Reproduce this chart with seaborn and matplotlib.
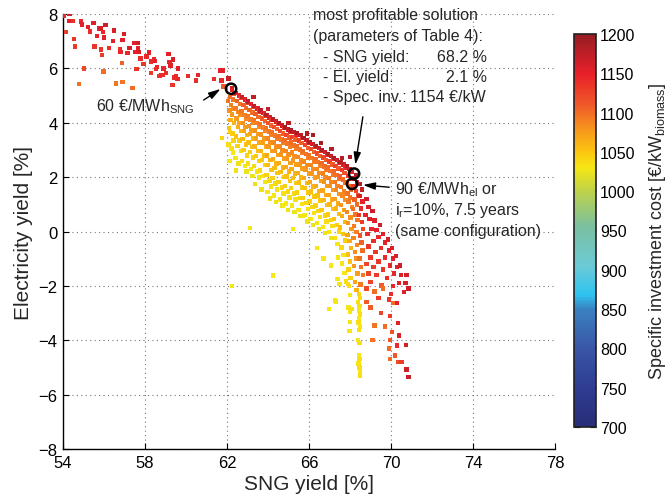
import numpy as np
import pandas as pd
import matplotlib
matplotlib.use("Agg")
import matplotlib.pyplot as plt
from matplotlib.colors import LinearSegmentedColormap, Normalize
from matplotlib.cm import ScalarMappable
import seaborn as sns

# ---------------- data (x = SNG yield %, y = electricity yield %, c = spec. inv. cost) ----------------
tail_x = [54.05,54.15,54.29,54.31,54.5,54.55,54.6,54.78,54.88,54.94,55.02,55.23,55.32,55.48,55.53,55.67,55.77,55.85,55.94,56.08,
          56.0,55.84,55.89,55.98,56.23,56.49,56.45,56.6,56.78,56.8,56.91,56.98,56.88,56.91,57.14,57.24,57.4,57.46,57.5,57.59,
          57.67,57.67,57.7,57.79,57.92,58.08,58.21,58.29,58.28,58.44,58.5,58.54,58.6,58.7,58.8,58.85,59.02,58.9,59.14,59.2,
          59.24,59.35,59.41,59.5,59.55,59.62,59.62,59.38,60.1,60.49,60.6,61.37,61.69,61.8,61.73,62.07,61.83]
tail_y = [7.94,7.33,7.75,8.0,7.75,7.08,6.81,5.43,7.72,7.62,6.0,7.53,7.35,7.67,6.8,7.2,7.47,7.47,7.33,7.6,
          7.14,6.69,6.49,5.88,6.75,7.39,7.0,5.45,6.69,6.6,7.04,7.26,6.2,5.49,6.57,6.74,5.27,6.93,6.6,5.98,
          6.93,6.75,6.6,6.37,6.16,6.44,6.59,5.82,6.25,6.32,6.27,5.98,6.05,5.73,5.75,5.76,5.82,6.0,6.53,6.24,
          6.1,5.39,5.67,5.7,5.6,6.0,5.62,6.32,5.73,5.55,5.75,5.61,5.92,5.92,5.55,5.63,5.34]
tail_c = [1140,1130,1150,1160,1140,1135,1130,1095,1145,1150,1120,1150,1140,1155,1135,1145,1150,1160,1145,1165,
          1150,1135,1130,1100,1140,1160,1150,1095,1140,1145,1150,1160,1105,1095,1145,1160,1100,1150,1150,1135,
          1165,1150,1160,1140,1135,1145,1150,1130,1140,1145,1150,1140,1145,1135,1140,1140,1140,1145,1150,1145,
          1150,1135,1140,1145,1140,1150,1145,1160,1140,1140,1145,1140,1150,1150,1145,1170,1110]

band_a_x = [62.25,62.23,62.33,62.15,62.29,62.06,62.2,62.31,62.12,62.25,62.18,62.34,62.1,62.27,62.16,62.32,62.07,62.22,62.3,62.13,61.75,62.45,
            62.43,62.58,62.68,62.5,62.64,62.41,62.55,62.66,62.47,62.6,62.53,62.69,62.45,62.62,62.51,62.67,62.42,62.57,
            62.73,62.88,62.98,62.8,62.94,62.71,62.85,62.96,62.77,62.9,62.83,62.99,62.75,62.92,62.81,62.97,62.72,62.87,62.95,
            63.03,63.18,63.28,63.1,63.24,63.01,63.15,63.26,63.07,63.2,63.13,63.29,63.05,63.22,63.11,63.27,63.02,63.17,63.25,
            63.33,63.48,63.58,63.4,63.54,63.31,63.45,63.56,63.37,63.5,63.43,63.59,63.35,63.52,63.41,63.57,63.32,63.47,63.55,63.38,
            63.63,63.78,63.88,63.7,63.84,63.61,63.75,63.86,63.67,63.8,63.73,63.89,63.65,63.82,63.71,63.87,63.62,63.77,63.85,63.68]
band_a_y = [5.28,5.2,5.05,4.95,4.85,4.8,4.65,4.5,4.45,4.3,4.1,4.0,3.8,3.6,3.65,3.35,3.2,3.05,2.9,2.6,3.45,2.25,
            5.1,5.0,4.9,4.8,4.7,4.55,4.4,4.3,4.15,4.0,3.85,3.7,3.5,3.35,3.15,2.95,2.7,2.5,
            4.95,4.85,4.75,4.65,4.55,4.42,4.28,4.15,4.0,3.85,3.7,3.55,3.4,3.2,3.0,2.8,2.6,2.4,2.2,
            4.78,4.68,4.58,4.48,4.38,4.25,4.12,4.0,3.88,3.72,3.58,3.42,3.28,3.1,2.92,2.72,2.5,2.3,2.05,
            4.62,4.52,4.42,4.32,4.22,4.1,3.98,3.85,3.72,3.58,3.42,3.28,3.12,2.95,2.78,2.6,2.42,2.2,1.98,1.75,
            4.45,4.36,4.26,4.16,4.06,3.95,3.83,3.7,3.57,3.43,3.28,3.12,2.96,2.8,2.62,2.45,2.25,2.05,1.82,1.55]
band_a_c = [1170,1150,1110,1100,1095,1095,1090,1085,1080,1075,1065,1060,1050,1045,1045,1040,1035,1035,1030,1030,1040,1025,
            1165,1145,1120,1105,1098,1092,1088,1082,1076,1070,1064,1058,1050,1045,1040,1035,1030,1025,
            1170,1150,1125,1108,1100,1094,1090,1085,1080,1074,1068,1062,1056,1050,1045,1040,1035,1030,1025,
            1175,1150,1125,1108,1100,1094,1090,1085,1080,1074,1068,1062,1056,1050,1045,1040,1035,1030,1025,
            1175,1155,1130,1110,1100,1095,1090,1086,1082,1078,1072,1066,1060,1054,1048,1042,1036,1032,1028,1025,
            1175,1155,1130,1110,1100,1095,1090,1086,1082,1078,1072,1066,1060,1054,1048,1042,1036,1032,1028,1025]

band_b_x = [63.93,64.08,64.18,64.0,64.14,63.91,64.05,64.16,63.97,64.1,64.03,64.19,63.95,64.12,64.01,64.17,63.92,64.07,64.15,63.98,64.09,
            64.23,64.38,64.48,64.3,64.44,64.21,64.35,64.46,64.27,64.4,64.33,64.49,64.25,64.42,64.31,64.47,64.22,64.37,64.45,64.28,64.39,
            64.53,64.68,64.78,64.6,64.74,64.51,64.65,64.76,64.57,64.7,64.63,64.79,64.55,64.72,64.61,64.77,64.52,64.67,64.75,64.58,64.69,
            64.83,64.98,65.08,64.9,65.04,64.81,64.95,65.06,64.87,65.0,64.93,65.09,64.85,65.02,64.91,65.07,64.82,64.97,65.05,64.88,64.99,
            65.13,65.28,65.38,65.2,65.34,65.11,65.25,65.36,65.17,65.3,65.23,65.39,65.15,65.32,65.21,65.37,65.12,65.27,65.35,65.18,65.29]
band_b_y = [4.28,4.2,4.1,4.0,3.9,3.8,3.68,3.55,3.42,3.28,3.12,2.97,2.8,2.63,2.45,2.27,2.08,1.88,1.66,1.45,1.22,
            4.12,4.04,3.95,3.85,3.76,3.65,3.53,3.4,3.27,3.12,2.97,2.82,2.66,2.5,2.33,2.15,1.97,1.77,1.55,1.33,1.08,
            3.98,3.9,3.8,3.7,3.6,3.5,3.38,3.25,3.12,2.98,2.83,2.68,2.52,2.35,2.18,2.0,1.82,1.62,1.4,1.18,0.95,
            3.83,3.75,3.66,3.56,3.46,3.35,3.23,3.1,2.97,2.83,2.68,2.53,2.37,2.2,2.03,1.85,1.67,1.47,1.25,1.03,0.8,
            3.72,3.65,3.56,3.47,3.38,3.28,3.16,3.03,2.9,2.76,2.61,2.46,2.3,2.13,1.96,1.78,1.6,1.4,1.18,0.96,0.72]
band_b_c = [1180,1160,1135,1115,1104,1098,1093,1089,1085,1081,1077,1072,1067,1061,1055,1049,1043,1038,1033,1029,1025,
            1180,1160,1135,1115,1104,1098,1093,1089,1085,1081,1077,1072,1067,1061,1055,1049,1043,1038,1033,1029,1025,
            1185,1165,1140,1118,1105,1098,1093,1089,1085,1081,1077,1072,1067,1061,1055,1049,1043,1038,1033,1029,1025,
            1190,1175,1150,1125,1108,1100,1095,1090,1086,1082,1077,1072,1067,1061,1055,1049,1043,1038,1033,1029,1025,
            1190,1175,1150,1125,1108,1100,1095,1090,1086,1082,1077,1072,1067,1061,1055,1049,1043,1038,1033,1029,1025]

band_c_x = [65.43,65.58,65.68,65.5,65.64,65.41,65.55,65.66,65.47,65.6,65.53,65.69,65.45,65.62,65.51,65.67,65.42,65.57,65.65,65.48,65.59,
            65.73,65.88,65.98,65.8,65.94,65.71,65.85,65.96,65.77,65.9,65.83,65.99,65.75,65.92,65.81,65.97,65.72,65.87,65.95,65.78,65.89,
            66.03,66.18,66.28,66.1,66.24,66.01,66.15,66.26,66.07,66.2,66.13,66.29,66.05,66.22,66.11,66.27,66.02,66.17,66.25,66.08,66.19,
            66.33,66.48,66.58,66.4,66.54,66.31,66.45,66.56,66.37,66.5,66.43,66.59,66.35,66.52,66.41,66.57,66.32,66.47,66.55,66.38,66.49,
            66.63,66.78,66.88,66.7,66.84,66.61,66.75,66.86,66.67,66.8,66.73,66.89,66.65,66.82,66.71,66.87,66.62,66.77,66.85,66.68,66.79,
            66.93,67.08,67.18,67.0,67.14,66.91,67.05,67.16,66.97,67.1,67.03,67.19,66.95,67.12,67.01,67.17,66.92,67.07,67.15,66.98,67.09]
band_c_y = [3.62,3.55,3.45,3.35,3.25,3.14,3.02,2.89,2.75,2.62,2.47,2.32,2.15,1.98,1.8,1.62,1.44,1.24,1.02,0.8,0.57,
            3.45,3.37,3.27,3.18,3.08,2.96,2.84,2.71,2.58,2.44,2.28,2.13,1.96,1.79,1.61,1.43,1.24,1.04,0.82,0.6,0.37,
            3.3,3.22,3.12,3.03,2.93,2.82,2.7,2.57,2.44,2.29,2.14,1.99,1.82,1.65,1.47,1.29,1.1,0.9,0.69,0.47,0.25,
            3.15,3.07,2.97,2.87,2.77,2.67,2.55,2.42,2.29,2.15,2.0,1.85,1.67,1.5,1.32,1.14,0.95,0.75,0.53,0.32,0.1,
            3.0,2.92,2.82,2.72,2.62,2.51,2.39,2.26,2.13,1.99,1.84,1.68,1.51,1.34,1.16,0.98,0.79,0.59,0.37,0.16,-0.06,
            2.85,2.77,2.67,2.57,2.47,2.35,2.23,2.1,1.97,1.83,1.68,1.52,1.35,1.18,1.0,0.82,0.63,0.43,0.21,-0.01,-0.23]
band_c_c = [1190,1175,1150,1125,1108,1100,1095,1090,1086,1082,1077,1072,1067,1061,1055,1049,1043,1038,1033,1029,1025,
            1190,1175,1150,1125,1108,1100,1095,1090,1086,1082,1077,1072,1067,1061,1055,1049,1043,1038,1033,1029,1025,
            1185,1165,1140,1118,1105,1098,1093,1089,1085,1081,1077,1072,1067,1061,1055,1049,1043,1038,1033,1029,1025,
            1185,1165,1140,1118,1105,1098,1093,1089,1085,1081,1077,1072,1067,1061,1055,1049,1043,1038,1033,1029,1025,
            1185,1165,1145,1125,1110,1102,1097,1093,1089,1085,1080,1075,1070,1064,1058,1052,1046,1040,1035,1030,1025,
            1185,1165,1145,1125,1110,1102,1097,1093,1089,1085,1080,1075,1070,1064,1058,1052,1046,1040,1035,1030,1025]

band_d_x = [67.23,67.38,67.48,67.3,67.44,67.21,67.35,67.46,67.27,67.4,67.33,67.49,67.25,67.42,67.31,67.47,67.22,67.37,67.45,67.28,67.39,67.43,
            67.53,67.68,67.78,67.6,67.74,67.51,67.65,67.76,67.57,67.7,67.63,67.79,67.55,67.72,67.61,67.77,67.52,67.67,67.75,67.58,67.69,67.62,67.73,
            67.85,67.98,68.08,67.9,68.04,67.84,67.95,68.06,67.88,68.0,67.93,68.09,67.86,68.02,67.91,68.07,67.87,67.97,68.05,67.89,67.99,67.92,68.03,67.94,68.0,
            68.3,68.2,68.34,68.17,68.28,68.38,68.22,68.33,68.16,68.27,68.37,68.21,68.31,68.18,68.35,68.24,68.29,68.19,68.36,68.25,68.32,
            68.5,68.6,68.47,68.62,68.53,68.45,68.58,68.64,68.49,68.56,68.61,68.46,68.54,68.63,68.51]
band_d_y = [2.7,2.62,2.52,2.42,2.32,2.2,2.08,1.95,1.82,1.68,1.53,1.37,1.2,1.03,0.85,0.65,0.45,0.23,0.0,-0.23,-0.47,-0.95,
            2.55,2.47,2.36,2.26,2.15,2.03,1.91,1.78,1.63,1.48,1.33,1.15,0.98,0.78,0.58,0.36,0.15,-0.09,-0.33,-0.59,-0.87,-1.17,-1.52,
            2.4,2.3,2.18,2.05,1.95,1.82,1.68,1.55,1.4,1.25,1.08,0.9,0.72,0.52,0.32,0.1,-0.12,-0.35,-0.6,-0.85,-1.1,-1.4,-1.7,-2.0,-2.33,
            2.08,1.95,1.8,1.65,1.5,1.35,1.18,1.0,0.82,0.62,0.42,0.2,-0.02,-0.25,-0.5,-0.75,-1.0,-1.28,-1.55,-1.85,-2.15,
            1.75,1.55,1.3,1.1,0.85,0.6,0.35,0.1,-0.15,-0.4,-0.7,-1.0,-1.3,-1.6,-1.95]
band_d_c = [1185,1165,1145,1125,1112,1104,1099,1095,1091,1087,1083,1078,1073,1067,1061,1055,1049,1043,1038,1033,1030,1030,
            1185,1168,1148,1130,1115,1107,1102,1098,1094,1090,1086,1082,1077,1072,1066,1060,1054,1048,1042,1036,1032,1030,1030,
            1185,1170,1150,1132,1118,1110,1105,1100,1097,1094,1091,1088,1085,1082,1078,1074,1070,1065,1060,1055,1050,1045,1040,1035,1030,
            1185,1170,1150,1135,1122,1112,1105,1100,1098,1096,1094,1092,1090,1088,1086,1084,1080,1076,1072,1068,1060,
            1180,1170,1160,1150,1142,1135,1128,1120,1112,1105,1100,1098,1096,1094,1092]

right_x = [68.8,68.9,68.75,68.95,69.1,69.2,69.05,68.85,69.3,69.45,69.4,69.15,68.9,69.6,69.7,69.5,69.25,69.0,68.8,69.85,
           69.9,69.7,69.4,69.15,68.9,70.05,70.1,69.95,69.6,69.3,69.0,68.8,70.25,70.3,70.15,69.8,69.54,69.62,69.2,70.45,
           70.5,70.4,70.11,70.0,70.27,70.11,70.63,70.76,70.7,70.85,69.9,69.4]
right_y = [1.2,0.9,0.6,0.45,0.75,0.4,0.1,-0.1,0.05,0.25,-0.2,-0.35,-0.55,-0.1,-0.4,-0.6,-0.75,-0.95,-1.2,-0.3,
           -0.7,-0.95,-1.1,-1.3,-1.55,-0.6,-1.0,-1.25,-1.4,-1.6,-1.85,-2.1,-0.9,-1.3,-1.55,-1.7,-1.99,-2.1,-2.2,-1.25,
           -1.6,-1.9,-2.0,-2.3,-2.62,-2.62,-2.23,-1.6,-1.9,-2.1,-2.5,-2.45]
right_c = [1165,1160,1150,1155,1165,1155,1145,1140,1150,1165,1145,1140,1135,1155,1150,1140,1135,1130,1125,1160,
           1150,1140,1135,1130,1125,1160,1150,1145,1135,1130,1125,1120,1160,1150,1145,1140,1110,1100,1100,1165,
           1155,1150,1145,1140,1150,1100,1155,1160,1160,1165,1135,1130]

sparse_x = [70.33,69.2,69.1,69.95,70.73,70.3,69.9,70.2,69.95,70.35,70.52,70.76,70.85,69.95,70.05,69.0,68.8,69.5,69.7,70.4]
sparse_y = [-3.36,-3.46,-4.0,-4.0,-4.17,-4.2,-4.3,-4.56,-4.68,-4.8,-4.8,-5.07,-5.36,-3.1,-3.7,-2.8,-2.6,-3.0,-3.5,-3.83]
sparse_c = [1150,1095,1095,1110,1160,1140,1100,1110,1100,1120,1130,1165,1170,1130,1115,1110,1110,1125,1100,1155]

yellow_x = [68.45,68.5,68.4,68.47,68.43,68.5,68.45,68.42,68.49,68.45,68.4,68.47,68.43,68.47,68.42,68.46,68.48,68.49,68.0,68.0,
            67.92,67.97,68.08,66.99,67.27,67.48,67.32,67.8,67.4,67.07,67.9,66.7,66.4,64.23,62.23,65.23,63.12,64.72,65.7,67.06]
yellow_y = [-2.3,-2.45,-2.6,-2.75,-2.9,-3.05,-3.2,-3.35,-3.5,-3.62,-4.0,-4.1,-4.55,-4.7,-4.85,-5.0,-5.15,-5.3,-2.97,-3.33,
            -2.8,-3.65,-2.85,-2.85,-2.54,-1.93,-2.57,-1.84,-1.75,-1.25,-1.93,-1.0,-0.6,-1.62,-2.01,0.1,0.12,0.95,0.56,-1.25]
yellow_c = [1040,1035,1035,1035,1030,1035,1030,1035,1030,1035,1030,1035,1030,1035,1030,1035,1030,1035,1030,1030,
            1030,1030,1035,1030,1030,1030,1030,1035,1030,1030,1035,1030,1030,1030,1030,1030,1030,1030,1030,1030]

outlier_x = [65.89,66.2,67.1,68.0,65.0,64.0,63.3,66.6,67.6]
outlier_y = [3.6,3.55,3.04,2.75,4.0,4.5,4.95,3.25,2.7]
outlier_c = [1185,1190,1180,1185,1180,1170,1175,1190,1180]

# highlighted solutions (open circles)
best_x = [62.2, 68.2, 68.1]
best_y = [5.25, 2.13, 1.75]

x_ticks = [54, 58, 62, 66, 70, 74, 78]
y_ticks = [-8, -6, -4, -2, 0, 2, 4, 6, 8]
cbar_ticks = [700, 750, 800, 850, 900, 950, 1000, 1050, 1100, 1150, 1200]

# colour map
cmap_vals = [700, 750, 800, 850, 868, 905, 955, 1000, 1030, 1050, 1080, 1110, 1150, 1200]
cmap_cols = ["#282d78", "#2e3d92", "#3a56a6", "#3a82c2", "#2ec3f0", "#6ccad6", "#7ac0a0",
             "#bdd24a", "#f6e614", "#fcc60f", "#f7941d", "#f05a28", "#e8202a", "#961e23"]

# ---------------- figure ----------------
sns.set_theme(style="white")
plt.rcParams["font.family"] = ["Liberation Sans", "DejaVu Sans"]
plt.rcParams["mathtext.fontset"] = "custom"
plt.rcParams["mathtext.rm"] = "Liberation Sans"
plt.rcParams["mathtext.it"] = "Liberation Sans:italic"
plt.rcParams["axes.unicode_minus"] = True

df = pd.DataFrame({
    "sng": tail_x + band_a_x + band_b_x + band_c_x + band_d_x + right_x + sparse_x + yellow_x + outlier_x,
    "el": tail_y + band_a_y + band_b_y + band_c_y + band_d_y + right_y + sparse_y + yellow_y + outlier_y,
    "cost": tail_c + band_a_c + band_b_c + band_c_c + band_d_c + right_c + sparse_c + yellow_c + outlier_c,
})

lo, hi = cmap_vals[0], cmap_vals[-1]
cmap = LinearSegmentedColormap.from_list(
    "inv", [((v - lo) / (hi - lo), c) for v, c in zip(cmap_vals, cmap_cols)])
norm = Normalize(lo, hi)

fig = plt.figure(figsize=(6.68, 5.02), dpi=100)
ax = fig.add_axes([0.0943, 0.1036, 0.7365, 0.8665])
cax = fig.add_axes([0.8593, 0.1474, 0.0329, 0.7829])

sns.scatterplot(data=df, x="sng", y="el", hue="cost", palette=cmap, hue_norm=norm,
                marker="s", s=10, linewidth=0, legend=False, ax=ax, zorder=3)

ax.scatter(best_x, best_y, s=55, facecolors="none", edgecolors="black", linewidths=1.8, zorder=5)

ax.set_xlim(54, 78)
ax.set_ylim(-8, 8)
ax.set_xticks(x_ticks)
ax.set_yticks(y_ticks)
ax.grid(True, color="#777777", linestyle=(0, (1, 3)), linewidth=0.8)
for s in ["top", "right"]:
    ax.spines[s].set_visible(False)
for s in ["left", "bottom"]:
    ax.spines[s].set_color("black")
    ax.spines[s].set_linewidth(1.0)
ax.tick_params(direction="in", length=4, width=0.8, labelsize=12, colors="black",
               left=True, bottom=True, pad=4)
ax.set_xlabel("SNG yield [%]", fontsize=15, labelpad=3)
ax.set_ylabel("Electricity yield [%]", fontsize=15, labelpad=4)

fs = 11.5
arrow = dict(arrowstyle="-|>,head_length=0.6,head_width=0.18", color="black", lw=1.0)
ax.text(55.6, 4.63, "60 €/MWh$_{\\mathrm{SNG}}$", fontsize=fs, va="center", ha="left")
ax.annotate("", xy=(61.8, 5.3), xytext=(60.75, 4.78), arrowprops=arrow)

ax.text(66.2, 8.0, "most profitable solution", fontsize=fs, va="center", ha="left")
ax.text(66.2, 7.22, "(parameters of Table 4):", fontsize=fs, va="center", ha="left")
ax.text(66.68, 6.45, "- SNG yield:", fontsize=fs, va="center", ha="left")
ax.text(66.68, 5.7, "- El. yield:", fontsize=fs, va="center", ha="left")
ax.text(66.68, 4.95, "- Spec. inv.:", fontsize=fs, va="center", ha="left")
ax.text(74.67, 6.45, "68.2 %", fontsize=fs, va="center", ha="right")
ax.text(74.67, 5.7, "2.1 %", fontsize=fs, va="center", ha="right")
ax.text(74.62, 4.95, "1154 €/kW", fontsize=fs, va="center", ha="right")
ax.annotate("", xy=(68.24, 2.36), xytext=(68.65, 4.32), arrowprops=arrow)

ax.text(70.2, 1.57, "90 €/MWh$_{\\mathrm{el}}$ or", fontsize=fs, va="center", ha="left")
ax.text(70.2, 0.8, "i$_{\\mathrm{r}}$=10%, 7.5 years", fontsize=fs, va="center", ha="left")
ax.text(70.2, 0.03, "(same configuration)", fontsize=fs, va="center", ha="left")
ax.annotate("", xy=(68.5, 1.72), xytext=(70.05, 1.62), arrowprops=arrow)

sm = ScalarMappable(norm=norm, cmap=cmap)
cb = fig.colorbar(sm, cax=cax, ticks=cbar_ticks)
cb.outline.set_edgecolor("#222222")
cb.outline.set_linewidth(1.2)
cax.tick_params(direction="in", length=4, width=0.8, left=True, right=True, labelsize=11.5,
                colors="black", pad=3)
cb.set_label("Specific investment cost [€/kW$_{\\mathrm{biomass}}$]", fontsize=13, labelpad=8)

fig.savefig("out.png", dpi=100)
